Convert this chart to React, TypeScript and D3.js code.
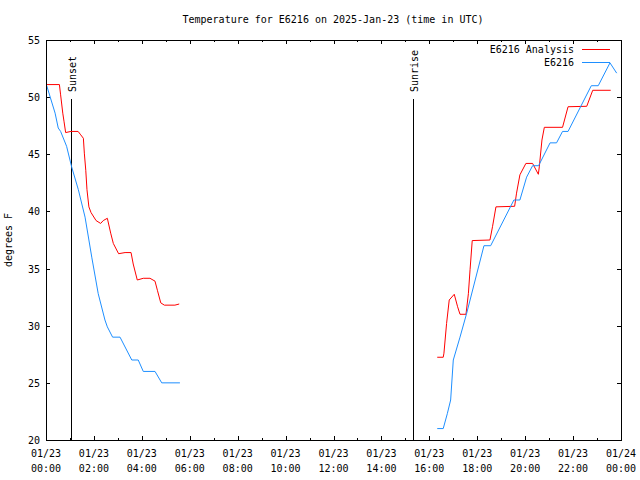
import React from "react";
import * as d3 from "d3";

const title = "Temperature for E6216 on 2025-Jan-23 (time in UTC)";
const yLabel = "degrees F";
const yTicks = [20, 25, 30, 35, 40, 45, 50, 55];
const xTickHours = [0, 2, 4, 6, 8, 10, 12, 14, 16, 18, 20, 22, 24];
const xTickDates = ["01/23", "01/23", "01/23", "01/23", "01/23", "01/23", "01/23", "01/23", "01/23", "01/23", "01/23", "01/23", "01/24"];
const xTickTimes = ["00:00", "02:00", "04:00", "06:00", "08:00", "10:00", "12:00", "14:00", "16:00", "18:00", "20:00", "22:00", "00:00"];

const seriesNames = ["E6216 Analysis", "E6216"];
const seriesColors = ["#ff0000", "#1e8fff"];

// hours since 00:00 UTC; null = gap
const analysisHours = [0.0, 0.56, 0.61, 0.70, 0.75, 0.82, 1.04, 1.34, 1.45, 1.56, 1.60, 1.66, 1.71, 1.79, 1.88, 2.09, 2.28, 2.39, 2.56, 2.70, 2.81, 3.03, 3.30, 3.55, 3.64, 3.81, 4.06, 4.34, 4.55, 4.65, 4.79, 4.94, 5.38, 5.56,
  null,
  16.33, 16.58, 16.61, 16.72, 16.83, 17.04, 17.18, 17.28, 17.53, 17.63, 17.70, 17.79, 18.53, 18.64, 18.78, 19.56, 19.64, 19.78, 20.03, 20.31, 20.55, 20.59, 20.70, 20.80, 21.56, 21.79, 22.57, 22.82, 23.57];
const analysisTemps = [51.1, 51.1, 50.2, 48.6, 47.9, 46.9, 47.0, 47.0, 46.7, 46.4, 45.1, 43.6, 41.9, 40.4, 39.9, 39.2, 38.95, 39.2, 39.4, 38.1, 37.2, 36.3, 36.4, 36.4, 35.4, 34.0, 34.15, 34.15, 33.9, 33.1, 32.0, 31.8, 31.8, 31.9,
  null,
  27.24, 27.24, 27.6, 30.2, 32.25, 32.75, 31.66, 31.0, 31.0, 32.8, 34.9, 37.45, 37.5, 38.7, 40.4, 40.45, 41.6, 43.2, 44.2, 44.2, 43.25, 43.9, 46.25, 47.36, 47.36, 49.16, 49.2, 50.6, 50.6];

const stationHours = [0.03, 0.38, 0.51, 0.61, 0.86, 1.07, 1.35, 1.63, 1.91, 2.18, 2.46, 2.56, 2.78, 3.09, 3.58, 3.85, 4.06, 4.55, 4.83, 5.59,
  null,
  16.33, 16.58, 16.75, 16.89, 17.0, 17.28, 17.56, 18.28, 18.56, 19.53, 19.78, 20.06, 20.31, 20.56, 21.04, 21.31, 21.56, 21.79, 22.76, 23.05, 23.54, 23.82];
const stationTemps = [51.0, 48.6, 47.3, 47.0, 45.7, 43.9, 41.9, 39.5, 36.0, 32.8, 30.5, 29.9, 29.0, 29.0, 27.0, 27.0, 26.0, 26.0, 25.0, 25.0,
  null,
  21.0, 21.0, 22.3, 23.5, 27.0, 29.0, 31.1, 37.0, 37.0, 41.0, 41.0, 43.0, 44.0, 44.0, 46.0, 46.0, 47.0, 47.0, 51.0, 51.0, 53.0, 52.1];

const eventNames = ["Sunset", "Sunrise"];
const eventHours = [1.04, 15.33];

const W = 640, H = 480;
const left = 46, right = 621, top = 40, bottom = 440;
const font = "'DejaVu Sans Mono', 'Liberation Mono', monospace";

export default function App() {
  const x = d3.scaleLinear().domain([0, 24]).range([left, right]);
  const y = d3.scaleLinear().domain([20, 55]).range([bottom, top]);

  const mk = (hs: (number | null)[], ts: (number | null)[]) =>
    hs.map((h, i) => ({ h, t: ts[i] }));
  const line = d3
    .line<{ h: number | null; t: number | null }>()
    .defined((d) => d.h !== null && d.t !== null)
    .x((d) => x(d.h as number))
    .y((d) => y(d.t as number));

  const series = [mk(analysisHours, analysisTemps), mk(stationHours, stationTemps)];
  const hourTicks = d3.range(0, 25);

  return (
    <svg width={W} height={H} style={{ position: "absolute", left: 0, top: 0, background: "#fff" }} fontFamily={font} fontSize={10}>
      <rect x={0} y={0} width={W} height={H} fill="#fff" />
      <text x={333} y={23} textAnchor="middle">{title}</text>

      {/* y ticks */}
      {yTicks.map((v) => (
        <g key={"y" + v}>
          <line x1={left} x2={left + 4} y1={Math.round(y(v)) + 0.5} y2={Math.round(y(v)) + 0.5} stroke="#000" shapeRendering="crispEdges" />
          <line x1={right - 4} x2={right} y1={Math.round(y(v)) + 0.5} y2={Math.round(y(v)) + 0.5} stroke="#000" shapeRendering="crispEdges" />
          <text x={left - 6} y={y(v) + 4} textAnchor="end">{v}</text>
        </g>
      ))}

      {/* x ticks */}
      {hourTicks.map((h) => {
        const len = h % 2 === 0 ? 4 : 2;
        const xx = Math.round(x(h)) + 0.5;
        return (
          <g key={"x" + h}>
            <line x1={xx} x2={xx} y1={bottom} y2={bottom - len} stroke="#000" shapeRendering="crispEdges" />
            <line x1={xx} x2={xx} y1={top} y2={top + len} stroke="#000" shapeRendering="crispEdges" />
          </g>
        );
      })}
      {xTickHours.map((h, i) => (
        <g key={"xl" + h}>
          <text x={x(h)} y={457} textAnchor="middle">{xTickDates[i]}</text>
          <text x={x(h)} y={472} textAnchor="middle">{xTickTimes[i]}</text>
        </g>
      ))}

      <text transform={`translate(12,240) rotate(-90)`} textAnchor="middle">{yLabel}</text>

      {/* sunset / sunrise */}
      {eventNames.map((n, i) => {
        const xx = Math.round(x(eventHours[i])) + 0.5;
        return (
          <g key={n}>
            <line x1={xx} x2={xx} y1={99} y2={bottom} stroke="#000" shapeRendering="crispEdges" />
            <text transform={`translate(${xx + 4},92) rotate(-90)`} textAnchor="start">{n}</text>
          </g>
        );
      })}

      {/* data */}
      {series.map((s, i) => (
        <path key={"s" + i} d={line(s) || ""} fill="none" stroke={seriesColors[i]} strokeWidth={1} />
      ))}

      {/* legend */}
      {seriesNames.map((n, i) => {
        const ly = 49.5 + i * 13;
        return (
          <g key={"lg" + i}>
            <text x={574} y={ly + 3.5} textAnchor="end">{n}</text>
            <line x1={582} x2={610} y1={ly} y2={ly} stroke={seriesColors[i]} shapeRendering="crispEdges" />
          </g>
        );
      })}

      {/* frame */}
      <rect x={left + 0.5} y={top + 0.5} width={right - left} height={bottom - top} fill="none" stroke="#000" shapeRendering="crispEdges" />
    </svg>
  );
}
